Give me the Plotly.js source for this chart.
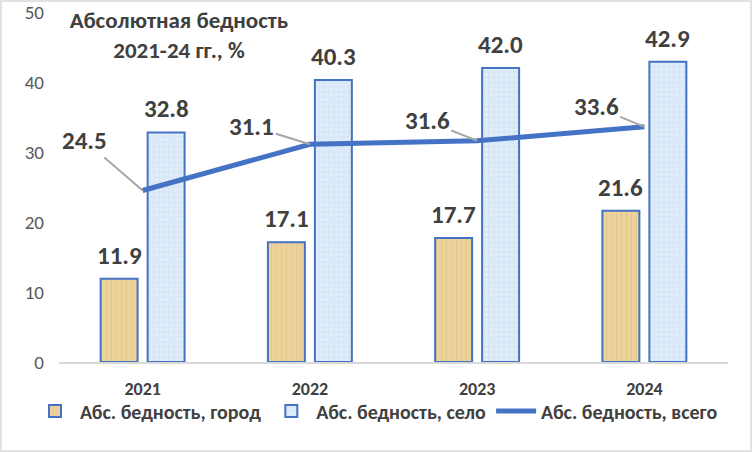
<!DOCTYPE html>
<html>
<head>
<meta charset="utf-8">
<script src="https://cdn.plot.ly/plotly-3.0.1.min.js"></script>
<style>
  html, body { margin: 0; padding: 0; background: #ffffff; }
  #chart { width: 752px; height: 452px; }
</style>
</head>
<body>
<div id="chart"></div>
<script>
// Data
const years = ['2021', '2022', '2023', '2024'];
const cityValues = [11.9, 17.1, 17.7, 21.6];
const ruralValues = [32.8, 40.3, 42.0, 42.9];
const totalValues = [24.5, 31.1, 31.6, 33.6];
const seriesNames = ['Абс. бедность, город', 'Абс. бедность, село', 'Абс. бедность, всего'];

// Label offsets for the line values (pixels, relative to the point)
const totalLabelShift = [[-58, -50], [-58, -18], [-50, -20], [-48, -20]];

const FONT = 'Carlito, "Open Sans", sans-serif';
const DARK = '#404040';
const BLUE = '#4472c4';

const margin = { t: 12, r: 24, b: 90, l: 59 };
const plotW = 752 - margin.l - margin.r;
const plotH = 452 - margin.t - margin.b;

const barWidth = 0.221;
const barGap = 0.03;

const cityTrace = {
    x: years,
    y: cityValues,
    type: 'bar',
    name: seriesNames[0],
    width: barWidth,
    offset: -(barWidth + barGap),
    marker: {
        color: '#ebcf94',
        line: { color: BLUE, width: 2 },
        pattern: { shape: '|', fgcolor: '#d4ae66', bgcolor: '#edd29c', size: 5, solidity: 0.2, fgopacity: 0.3 },
    },
    hoverinfo: 'skip',
};

const ruralTrace = {
    x: years,
    y: ruralValues,
    type: 'bar',
    name: seriesNames[1],
    width: barWidth,
    offset: barGap,
    marker: {
        color: '#d9e8f8',
        line: { color: BLUE, width: 2 },
        pattern: { shape: '.', fgcolor: '#ffffff', bgcolor: '#d9e8f8', size: 5, solidity: 0.3, fgopacity: 0.25 },
    },
    hoverinfo: 'skip',
};

const totalTrace = {
    x: years,
    y: totalValues,
    type: 'scatter',
    mode: 'lines',
    name: seriesNames[2],
    line: { color: BLUE, width: 5 },
    hoverinfo: 'skip',
};

const labelFont = { family: FONT, size: 25, color: DARK, weight: 'bold' };
const annotations = [];
const barShift = (barWidth / 2 + barGap) * plotW / 4;
years.forEach((yr, i) => {
    annotations.push({
        xref: 'x', yref: 'y', x: i, y: cityValues[i], text: cityValues[i].toFixed(1),
        xshift: -barShift, yshift: 6, yanchor: 'bottom', showarrow: false, font: labelFont,
    });
    annotations.push({
        xref: 'x', yref: 'y', x: i, y: ruralValues[i], text: ruralValues[i].toFixed(1),
        xshift: barShift, yshift: 6, yanchor: 'bottom', showarrow: false, font: labelFont,
    });
    annotations.push({
        xref: 'x', yref: 'y', x: i, y: totalValues[i], text: totalValues[i].toFixed(1),
        showarrow: true, arrowhead: 0, arrowwidth: 2, arrowcolor: '#a6a6a6',
        ax: totalLabelShift[i][0], ay: totalLabelShift[i][1], font: labelFont,
    });
});

const layout = {
    width: 752,
    height: 452,
    margin: margin,
    paper_bgcolor: '#ffffff',
    plot_bgcolor: '#ffffff',
    font: { family: FONT, color: DARK },
    title: {
        text: 'Абсолютная бедность<br>2021-24 гг., %',
        font: { family: FONT, size: 23, color: DARK, weight: 'bold' },
        xref: 'container', x: 179 / 752, xanchor: 'center',
        yref: 'container', y: 1 - 28 / 452, yanchor: 'top',
    },
    barmode: 'overlay',
    showlegend: true,
    legend: {
        orientation: 'h',
        x: -29 / plotW, xanchor: 'left',
        y: -49 / plotH, yanchor: 'middle',
        bgcolor: 'rgba(0,0,0,0)',
        font: { family: FONT, size: 20, color: DARK, weight: 'bold' },
        itemwidth: 40,
        traceorder: 'normal',
    },
    xaxis: {
        type: 'category',
        range: [-0.5, 3.5],
        showgrid: false,
        showline: true,
        linecolor: '#d9d9d9',
        linewidth: 1.5,
        ticks: '',
        tickfont: { family: FONT, size: 18, color: DARK, weight: 'bold' },
        ticklabelstandoff: 10,
        fixedrange: true,
    },
    yaxis: {
        range: [0, 50],
        dtick: 10,
        showgrid: false,
        zeroline: false,
        showline: false,
        ticks: '',
        tickfont: { family: FONT, size: 19, color: '#595959' },
        ticklabelstandoff: 14,
        fixedrange: true,
    },
    annotations: annotations,
    shapes: [{
        type: 'rect', xref: 'paper', yref: 'paper',
        x0: -(margin.l - 1) / plotW, x1: 1 + (margin.r - 1) / plotW,
        y0: -(margin.b - 1) / plotH, y1: 1 + (margin.t - 1) / plotH,
        line: { color: '#d9d9d9', width: 1.5 },
        layer: 'below',
    }],
};

Plotly.newPlot('chart', [cityTrace, ruralTrace, totalTrace], layout, { staticPlot: true });
</script>
</body>
</html>
